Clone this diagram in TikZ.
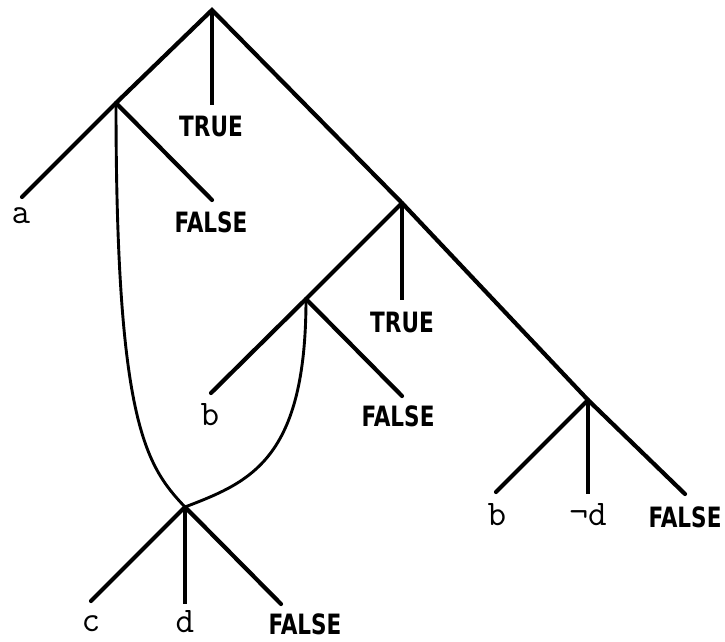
\documentclass[tikz,border=0pt]{standalone}
\usepackage{fontspec}
\newfontfamily\truthfont[FakeStretch=0.77]{DejaVu Sans}
\tikzset{
  edge/.style={line width=4.2pt, line cap=round},
  stem/.style={line width=3.1pt},
  link/.style={line width=2.9pt},
  truth/.style={font=\truthfont\bfseries\fontsize{28}{28}\selectfont, inner sep=0pt},
  var/.style={font=\ttfamily\fontsize{36}{36}\selectfont, inner sep=0pt}
}
\begin{document}
\begin{tikzpicture}[x=1pt, y=-1pt]
    \useasboundingbox (0, 0) rectangle (725, 642);

    % Branching points
    \coordinate (root) at (212, 10);
    \coordinate (na) at (116, 103);
    \coordinate (nr) at (402, 203);
    \coordinate (nb) at (306, 299);
    \coordinate (nd) at (588, 400);
    \coordinate (nc) at (185, 507);

    % Leaf ends
    \coordinate (la) at (22, 197);
    \coordinate (lt1) at (212, 105);
    \coordinate (lf1) at (212, 200);
    \coordinate (lt2) at (402, 300);
    \coordinate (lb1) at (211, 393);
    \coordinate (lf2) at (402, 396);
    \coordinate (lb2) at (496, 492);
    \coordinate (lnd) at (588, 494);
    \coordinate (lf3) at (685, 494);
    \coordinate (lc) at (91, 601);
    \coordinate (ld) at (185, 604);
    \coordinate (lf4) at (281, 604);

    % Top tree
    \draw[edge] (la) -- (na) -- (root) -- (nr) -- (nd);
    \draw[edge] (na) -- (lf1);
    \draw[stem] (root) -- (lt1);
    \draw[edge] (nr) -- (nb) -- (lb1);
    \draw[stem] (nr) -- (lt2);
    \draw[edge] (nb) -- (lf2);
    \draw[edge] (nd) -- (lb2);
    \draw[stem] (nd) -- (lnd);
    \draw[edge] (nd) -- (lf3);

    % Shared subtree and its links
    \draw[link] (na) .. controls (116, 420) and (145, 465) .. (nc);
    \draw[link] (nb) .. controls (306, 460) and (250, 482) .. (nc);
    \draw[edge] (nc) -- (lc);
    \draw[stem] (nc) -- (ld);
    \draw[edge] (nc) -- (lf4);

    % Labels
    \node[var] (ta) at (21, 216) {a};
    \node[truth] (tt1) at (211, 126) {TRUE};
    \node[truth] (tf1) at (211, 222) {FALSE};
    \node[truth] (tt2) at (402, 322) {TRUE};
    \node[var] (tb1) at (210, 415) {b};
    \node[truth] (tf2) at (398, 416) {FALSE};
    \node[var] (tb2) at (497, 515) {b};
    \node[var] (tnd) at (588, 515) {¬d};
    \node[truth] (tf3) at (685, 517) {FALSE};
    \node[var] (tc) at (91, 624) {c};
    \node[var] (td) at (185, 622) {d};
    \node[truth] (tf4) at (305, 624) {FALSE};
\end{tikzpicture}
\end{document}
